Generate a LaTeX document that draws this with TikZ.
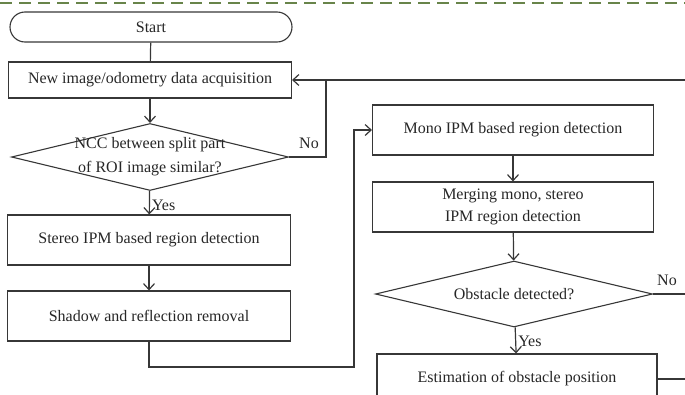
\documentclass[tikz,border=0pt]{standalone}
\usepackage{fontspec}
\setmainfont{Liberation Serif}
\usepackage{xcolor}
\usetikzlibrary{shapes,shapes.geometric,shapes.misc,arrows.meta}
\definecolor{dashgreen}{RGB}{104,132,74}
\definecolor{linegray}{RGB}{55,55,55}

\begin{document}
\begin{tikzpicture}[x=1pt,y=-1pt,
    every node/.style={font=\fontsize{16}{22}\selectfont, text=black!85},
    startbox/.style={rounded rectangle, draw=linegray, line width=1.1pt, minimum width=282pt, minimum height=30pt, inner sep=0pt},
    procbox/.style={rectangle, draw=linegray, line width=1.1pt, minimum width=283pt, minimum height=50pt, inner sep=0pt, align=center},
    decbox/.style={diamond, draw=linegray, line width=1.1pt, minimum width=277pt, minimum height=67pt, inner sep=0pt},
    dectext/.style={align=center, font=\fontsize{16}{24}\selectfont, text=black!85},
    flow/.style={draw=linegray, line width=1.2pt},
    flowarr/.style={flow, -{Straight Barb[length=6pt,width=11pt,line width=1.2pt]}}]
                \clip (0,0) rectangle (685,394);
                % Top dashed border
                \draw[dashgreen, line width=2pt, dash pattern=on 12pt off 7pt] (0,3) -- (685,3);

                % Left column
                \node[startbox] (start) at (151,27) {Start};
                \node[procbox, minimum height=36pt] (acq) at (150,80) {New image/odometry data acquisition};
                \node[decbox, label={[dectext]center:NCC between split part\\of ROI image similar?}] (ncc) at (150,157) {};
                \node[procbox] (stereo) at (149,240) {Stereo IPM based region detection};
                \node[procbox] (shadow) at (149,316) {Shadow and reflection removal};

                % Right column
                \node[procbox, minimum width=281pt] (mono) at (513,130) {Mono IPM based region detection};
                \node[procbox, minimum width=281pt] (merge) at (513,207) {Merging mono, stereo\\IPM region detection};
                \node[decbox, minimum height=66pt, label={[dectext]center:Obstacle detected?}] (obst) at (514,294) {};
                \node[procbox, minimum width=280pt] (estim) at (517,379) {Estimation of obstacle position};

                % Loop coordinates
                \coordinate (jn) at (326,80);
                \coordinate (rtop) at (685,80);
                \coordinate (low) at (354,367);
                \coordinate (robst) at (685,294);
                \coordinate (restim) at (685,379);

                % Connectors
                \draw[flow] (start) -- (acq);
                \draw[flowarr] (acq) -- (ncc);
                \draw[flowarr] (ncc) -- node[right, pos=0.6, inner sep=2pt] {Yes} (stereo);
                \draw[flowarr] (stereo) -- (shadow);
                \draw[flow] (ncc.east) -| (jn);
                \draw[flowarr] (rtop) -- (jn) -- (acq.east);
                \draw[flowarr] (shadow.south) |- (low) |- (mono.west);
                \draw[flowarr] (mono) -- (merge);
                \draw[flowarr] (merge) -- (obst);
                \draw[flowarr] (obst) -- node[right, pos=0.55, inner sep=2pt] {Yes} (estim);
                \draw[flow] (obst.east) -- (robst);
                \draw[flow] (estim.east) -- (restim);

                % Branch labels
                \node (ncc no) at (309,143) {No};
                \node (obst no) at (667,280) {No};
            \end{tikzpicture}
\end{document}
